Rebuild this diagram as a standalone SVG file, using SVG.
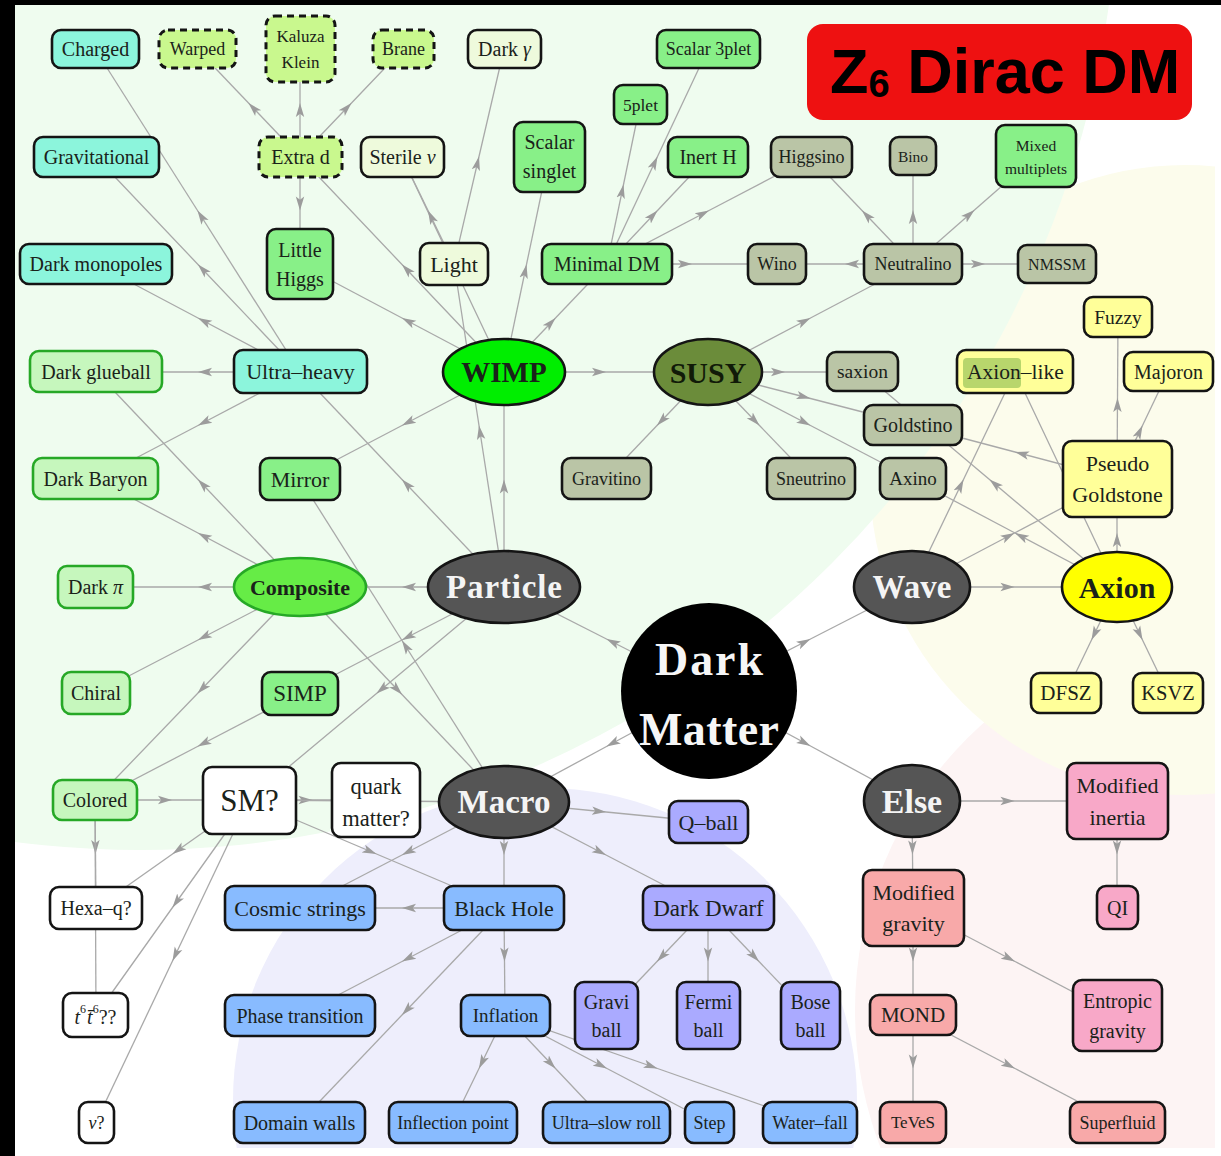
<svg xmlns="http://www.w3.org/2000/svg" width="1221" height="1156" viewBox="0 0 1221 1156">
<defs>
<clipPath id="clip"><rect x="15" y="5" width="1200" height="1143"/></clipPath>
<marker id="ah" viewBox="0 0 16 10" refX="15" refY="5" markerWidth="15" markerHeight="10" markerUnits="userSpaceOnUse" orient="auto"><path d="M0,0.5 L15,5 L0,9.5 L3.5,5 Z" fill="#9c9c9c"/></marker>
<style>
.e{fill:none;stroke:#a9a9a9;stroke-width:1.3;marker-mid:url(#ah)}
text{font-family:"Liberation Serif","Times New Roman",serif;text-anchor:middle;dominant-baseline:central}
#nodes{font-size:20px;fill:#1a221a}
.n{stroke:#141414;stroke-width:2.6}
.d{stroke-dasharray:7 5;stroke-width:3}
.cy{fill:#8cf5dc}.dl{fill:#c9f88e}.pl{fill:#eefadc}.gr{fill:#88f088}.sg{fill:#bac5a6}
.lg{fill:#c6f7bd;stroke:#26a826}.ye{fill:#ffff99}.wh{fill:#ffffff}.bl{fill:#88bbff}
.lv{fill:#aaaaff}.sa{fill:#f8a9a9}.pk{fill:#f8a8c8}
.dk{fill:#555555}
.wt{fill:#f4f4f4;font-weight:bold}
.dm{fill:#f6f6f6;font-weight:bold;font-size:46px}
.bo{font-weight:bold}
</style>
</defs>
<rect width="1221" height="1156" fill="#ffffff"/>
<g clip-path="url(#clip)">
<circle cx="1240" cy="1010" r="385" fill="#fdf4f4"/>
<circle cx="1185" cy="480" r="315" fill="#fcfcec"/>
<circle cx="545" cy="1100" r="312" fill="#eeeefc"/>
<circle cx="140" cy="-128" r="978" fill="#effcef"/>
</g>
<rect x="0" y="0" width="1221" height="5" fill="#000"/>
<rect x="0" y="0" width="15" height="1156" fill="#000"/>

<g id="edges">
<path class="e" d="M709,691 L606.5,639 L504,587"/>
<path class="e" d="M709,691 L810.5,639 L912,587"/>
<path class="e" d="M709,691 L606.5,746.5 L504,802"/>
<path class="e" d="M709,691 L810.5,746 L912,801"/>
<path class="e" d="M504,587 L504,479.5 L504,372"/>
<path class="e" d="M504,587 L479,425.5 L454,264"/>
<path class="e" d="M504,587 L402,479.5 L300,372"/>
<path class="e" d="M504,587 L402,587 L300,587"/>
<path class="e" d="M504,587 L402,640 L300,693"/>
<path class="e" d="M504,587 L376.5,693.5 L249,800"/>
<path class="e" d="M504,372 L606,372 L708,372"/>
<path class="e" d="M504,372 L402,425.5 L300,479"/>
<path class="e" d="M504,372 L402,318 L300,264"/>
<path class="e" d="M504,372 L402,264.5 L300,157"/>
<path class="e" d="M504,372 L453,264.5 L402,157"/>
<path class="e" d="M504,372 L526.5,264.5 L549,157"/>
<path class="e" d="M504,372 L555.5,318 L607,264"/>
<path class="e" d="M454,264 L428,210.5 L402,157"/>
<path class="e" d="M454,264 L479,156.5 L504,49"/>
<path class="e" d="M300,157 L248.5,103 L197,49"/>
<path class="e" d="M300,157 L300,103 L300,49"/>
<path class="e" d="M300,157 L351.5,103 L403,49"/>
<path class="e" d="M300,157 L300,210.5 L300,264"/>
<path class="e" d="M300,372 L197.5,210.5 L95,49"/>
<path class="e" d="M300,372 L198,264.5 L96,157"/>
<path class="e" d="M300,372 L198,318 L96,264"/>
<path class="e" d="M300,372 L198,372 L96,372"/>
<path class="e" d="M300,372 L198,425.5 L96,479"/>
<path class="e" d="M300,587 L198,479.5 L96,372"/>
<path class="e" d="M300,587 L198,533 L96,479"/>
<path class="e" d="M300,587 L198,587 L96,587"/>
<path class="e" d="M300,587 L198,640 L96,693"/>
<path class="e" d="M300,587 L197.5,693.5 L95,800"/>
<path class="e" d="M300,587 L402,694.5 L504,802"/>
<path class="e" d="M504,802 L402,640.5 L300,479"/>
<path class="e" d="M300,693 L197.5,746.5 L95,800"/>
<path class="e" d="M95,800 L172,800 L249,800"/>
<path class="e" d="M95,800 L95.5,854 L96,908"/>
<path class="e" d="M95,800 L95.5,907.5 L96,1015"/>
<path class="e" d="M249,800 L312.5,800 L376,800"/>
<path class="e" d="M249,800 L172.5,854 L96,908"/>
<path class="e" d="M249,800 L172.5,907.5 L96,1015"/>
<path class="e" d="M249,800 L172.5,961 L96,1122"/>
<path class="e" d="M249,800 L376.5,854 L504,908"/>
<path class="e" d="M504,802 L376.5,801 L249,800"/>
<path class="e" d="M504,802 L606,812 L708,822"/>
<path class="e" d="M504,802 L504,855 L504,908"/>
<path class="e" d="M504,802 L606,855 L708,908"/>
<path class="e" d="M504,802 L402,855 L300,908"/>
<path class="e" d="M504,908 L402,908 L300,908"/>
<path class="e" d="M504,908 L402,961.5 L300,1015"/>
<path class="e" d="M504,908 L402,1015 L300,1122"/>
<path class="e" d="M504,908 L504.5,961.5 L505,1015"/>
<path class="e" d="M505,1015 L479,1068.5 L453,1122"/>
<path class="e" d="M505,1015 L555.5,1068.5 L606,1122"/>
<path class="e" d="M505,1015 L607,1068.5 L709,1122"/>
<path class="e" d="M505,1015 L657.5,1068.5 L810,1122"/>
<path class="e" d="M708,908 L657,961.5 L606,1015"/>
<path class="e" d="M708,908 L708,961.5 L708,1015"/>
<path class="e" d="M708,908 L759,961.5 L810,1015"/>
<path class="e" d="M912,801 L1014.5,801 L1117,801"/>
<path class="e" d="M912,801 L912.5,854.5 L913,908"/>
<path class="e" d="M1117,801 L1117,854.5 L1117,908"/>
<path class="e" d="M913,908 L913,961.5 L913,1015"/>
<path class="e" d="M913,908 L1015,961.5 L1117,1015"/>
<path class="e" d="M913,1015 L913,1068.5 L913,1122"/>
<path class="e" d="M913,1015 L1015,1068.5 L1117,1122"/>
<path class="e" d="M607,264 L623.5,184.5 L640,105"/>
<path class="e" d="M607,264 L657.5,156.5 L708,49"/>
<path class="e" d="M607,264 L657.5,210.5 L708,157"/>
<path class="e" d="M607,264 L709,210.5 L811,157"/>
<path class="e" d="M607,264 L692,264 L777,264"/>
<path class="e" d="M913,264 L845,264 L777,264"/>
<path class="e" d="M913,264 L862,210.5 L811,157"/>
<path class="e" d="M913,264 L913,210 L913,156"/>
<path class="e" d="M913,264 L974.5,210 L1036,156"/>
<path class="e" d="M913,264 L985,264 L1057,264"/>
<path class="e" d="M708,372 L810.5,318 L913,264"/>
<path class="e" d="M708,372 L785,372 L862,372"/>
<path class="e" d="M708,372 L810.5,398.5 L913,425"/>
<path class="e" d="M708,372 L810.5,425.5 L913,479"/>
<path class="e" d="M708,372 L759.5,425.5 L811,479"/>
<path class="e" d="M708,372 L657,425.5 L606,479"/>
<path class="e" d="M912,587 L963.5,479.5 L1015,372"/>
<path class="e" d="M912,587 L1014.5,533 L1117,479"/>
<path class="e" d="M912,587 L1014.5,587 L1117,587"/>
<path class="e" d="M1117,587 L1066,479.5 L1015,372"/>
<path class="e" d="M1117,587 L989.5,479.5 L862,372"/>
<path class="e" d="M1117,587 L1015,533 L913,479"/>
<path class="e" d="M1117,587 L1117,533 L1117,479"/>
<path class="e" d="M1117,587 L1091.5,640 L1066,693"/>
<path class="e" d="M1117,587 L1142.5,640 L1168,693"/>
<path class="e" d="M1117,479 L1015,452 L913,425"/>
<path class="e" d="M1117,479 L1117.5,398 L1118,317"/>
<path class="e" d="M1117,479 L1142.5,425.5 L1168,372"/>
</g>

<g id="nodes">
<g id="charged"><rect class="n cy" x="52" y="30" width="87" height="38" rx="9"/><text x="95.5" y="49">Charged</text></g>
<g id="warped"><rect class="n d dl" x="159" y="30" width="77" height="38" rx="9"/><text x="197.5" y="49" font-size="18">Warped</text></g>
<g id="kaluza-klein"><rect class="n d dl" x="266" y="16" width="69" height="66" rx="9"/><text x="300.5" y="36" font-size="17">Kaluza</text><text x="300.5" y="62" font-size="17">Klein</text></g>
<g id="brane"><rect class="n d dl" x="373" y="30" width="61" height="38" rx="9"/><text x="403.5" y="49" font-size="18">Brane</text></g>
<g id="dark-gamma"><rect class="n pl" x="468" y="30" width="73" height="38" rx="9"/><text x="504.5" y="49">Dark <tspan font-style="italic">γ</tspan></text></g>
<g id="scalar-3plet"><rect class="n gr" x="657" y="30" width="103" height="38" rx="9"/><text x="708.5" y="49" font-size="18">Scalar 3plet</text></g>
<g id="five-plet"><rect class="n gr" x="614" y="85" width="53" height="39" rx="9"/><text x="640.5" y="104.5" font-size="17.5">5plet</text></g>
<g id="title"><rect x="807" y="24" width="385" height="96" rx="16" fill="#ee1111"/><text x="830" y="93" style="font-family:'Liberation Sans',Arial,sans-serif;font-weight:bold;font-size:63px;text-anchor:start;dominant-baseline:alphabetic;fill:#000">Z<tspan font-size="38" dy="4">6</tspan><tspan dy="-4"> Dirac DM</tspan></text></g>

<g id="gravitational"><rect class="n cy" x="34" y="137" width="125" height="40" rx="9"/><text x="96.5" y="157">Gravitational</text></g>
<g id="extra-d"><rect class="n d dl" x="259" y="137" width="83" height="40" rx="9"/><text x="300.5" y="157">Extra d</text></g>
<g id="sterile-nu"><rect class="n pl" x="361" y="137" width="83" height="40" rx="9"/><text x="402.5" y="157">Sterile <tspan font-style="italic">ν</tspan></text></g>
<g id="scalar-singlet"><rect class="n gr" x="514" y="122" width="71" height="70" rx="9"/><text x="549.5" y="142">Scalar</text><text x="549.5" y="171">singlet</text></g>
<g id="inert-h"><rect class="n gr" x="668" y="137" width="80" height="40" rx="9"/><text x="708" y="157">Inert H</text></g>
<g id="higgsino"><rect class="n sg" x="771" y="137" width="81" height="40" rx="9"/><text x="811.5" y="157" font-size="18">Higgsino</text></g>
<g id="bino"><rect class="n sg" x="890" y="137" width="46" height="38" rx="9"/><text x="913" y="156" font-size="15.5">Bino</text></g>
<g id="mixed-multiplets"><rect class="n gr" x="996" y="125" width="80" height="62" rx="9"/><text x="1036" y="145" font-size="15.5">Mixed</text><text x="1036" y="168" font-size="15.5">multiplets</text></g>

<g id="dark-monopoles"><rect class="n cy" x="20" y="244" width="152" height="40" rx="9"/><text x="96" y="264">Dark monopoles</text></g>
<g id="little-higgs"><rect class="n gr" x="267" y="229" width="66" height="70" rx="9"/><text x="300" y="249.5">Little</text><text x="300" y="278.5">Higgs</text></g>
<g id="light"><rect class="n pl" x="420" y="243" width="68" height="42" rx="9"/><text x="454" y="264" font-size="22">Light</text></g>
<g id="minimal-dm"><rect class="n gr" x="542" y="244" width="130" height="40" rx="9"/><text x="607" y="264">Minimal DM</text></g>
<g id="wino"><rect class="n sg" x="748" y="244" width="58" height="40" rx="9"/><text x="777" y="264" font-size="18">Wino</text></g>
<g id="neutralino"><rect class="n sg" x="864" y="244" width="98" height="40" rx="9"/><text x="913" y="264" font-size="18">Neutralino</text></g>
<g id="nmssm"><rect class="n sg" x="1018" y="245" width="78" height="38" rx="9"/><text x="1057" y="264" font-size="16">NMSSM</text></g>
<g id="fuzzy"><rect class="n ye" x="1084" y="297" width="68" height="40" rx="9"/><text x="1118" y="317" font-size="19.5">Fuzzy</text></g>

<g id="dark-glueball"><rect class="n lg" x="30" y="351" width="132" height="41" rx="9"/><text x="96" y="371.5">Dark glueball</text></g>
<g id="ultra-heavy"><rect class="n cy" x="234" y="350" width="133" height="43" rx="9"/><text x="300.5" y="371.5" font-size="22">Ultra–heavy</text></g>
<g id="wimp"><ellipse class="n" cx="504" cy="372" rx="61" ry="33" fill="#00ee00"/><text class="bo" x="504" y="372" font-size="29">WIMP</text></g>
<g id="susy"><ellipse class="n" cx="708" cy="372" rx="54" ry="33" fill="#6b8c3a"/><text class="bo" x="708" y="372" font-size="30" fill="#111a08">SUSY</text></g>
<g id="saxion"><rect class="n sg" x="827" y="352" width="71" height="39" rx="9"/><text x="862.5" y="371.5" font-size="19.5">saxion</text></g>
<g id="axion-like"><rect class="n ye" x="957" y="350" width="116" height="43" rx="9"/><rect x="963" y="358" width="58" height="30" rx="4" fill="#b8d66c"/><text x="967" y="372" font-size="21.5" style="text-anchor:start">Axion–like</text></g>
<g id="majoron"><rect class="n ye" x="1124" y="352" width="89" height="39" rx="9"/><text x="1168.5" y="371.5">Majoron</text></g>

<g id="goldstino"><rect class="n sg" x="864" y="405" width="98" height="40" rx="9"/><text x="913" y="425">Goldstino</text></g>

<g id="dark-baryon"><rect class="n lg" x="33" y="458" width="125" height="41" rx="9"/><text x="95.5" y="478.5">Dark Baryon</text></g>
<g id="mirror"><rect class="n gr" x="260" y="458" width="80" height="42" rx="9"/><text x="300" y="479" font-size="22">Mirror</text></g>
<g id="gravitino"><rect class="n sg" x="562" y="458" width="89" height="41" rx="9"/><text x="606.5" y="478.5" font-size="18">Gravitino</text></g>
<g id="sneutrino"><rect class="n sg" x="767" y="458" width="88" height="41" rx="9"/><text x="811" y="478.5" font-size="18">Sneutrino</text></g>
<g id="axino"><rect class="n sg" x="880" y="458" width="66" height="41" rx="9"/><text x="913" y="478.5" font-size="19">Axino</text></g>
<g id="pseudo-goldstone"><rect class="n ye" x="1063" y="441" width="109" height="76" rx="9"/><text x="1117.5" y="463.5" font-size="22">Pseudo</text><text x="1117.5" y="494" font-size="22">Goldstone</text></g>

<g id="dark-pi"><rect class="n lg" x="58" y="566" width="75" height="42" rx="9"/><text x="95.5" y="587">Dark <tspan font-style="italic">π</tspan></text></g>
<g id="composite"><ellipse cx="300" cy="587" rx="66" ry="29" fill="#66ec46" stroke="#26a826" stroke-width="2.6"/><text class="bo" x="300" y="587" font-size="22">Composite</text></g>
<g id="particle"><ellipse class="n dk" cx="504" cy="587" rx="76" ry="36"/><text class="wt" x="504" y="587" font-size="33" textLength="116" lengthAdjust="spacing">Particle</text></g>
<g id="wave"><ellipse class="n dk" cx="912" cy="587" rx="58" ry="36"/><text class="wt" x="912" y="587" font-size="33">Wave</text></g>
<g id="axion"><ellipse class="n" cx="1117" cy="587" rx="55" ry="35" fill="#ffff00"/><text class="bo" x="1117" y="587" font-size="30">Axion</text></g>

<g id="dark-matter"><circle cx="709" cy="691" r="88" fill="#000"/><text class="dm" x="709" y="659" textLength="108" lengthAdjust="spacing">Dark</text><text class="dm" x="709" y="729" textLength="140" lengthAdjust="spacing">Matter</text></g>

<g id="chiral"><rect class="n lg" x="62" y="672" width="68" height="42" rx="9"/><text x="96" y="693">Chiral</text></g>
<g id="simp"><rect class="n gr" x="262" y="672" width="76" height="43" rx="9"/><text x="300" y="693.5" font-size="23">SIMP</text></g>
<g id="dfsz"><rect class="n ye" x="1031" y="673" width="70" height="40" rx="9"/><text x="1066" y="693" font-size="21">DFSZ</text></g>
<g id="ksvz"><rect class="n ye" x="1133" y="673" width="70" height="40" rx="9"/><text x="1168" y="693" font-size="20.5">KSVZ</text></g>

<g id="colored"><rect class="n lg" x="53" y="780" width="84" height="40" rx="9"/><text x="95" y="800">Colored</text></g>
<g id="sm"><rect class="n wh" x="203" y="767" width="93" height="67" rx="9"/><text x="249.5" y="800.5" font-size="31">SM?</text></g>
<g id="quark-matter"><rect class="n wh" x="332" y="763" width="88" height="74" rx="9"/><text x="376" y="786" font-size="22.5">quark</text><text x="376" y="818" font-size="22.5">matter?</text></g>
<g id="macro"><ellipse class="n dk" cx="504" cy="802" rx="65" ry="36"/><text class="wt" x="504" y="802" font-size="33">Macro</text></g>
<g id="q-ball"><rect class="n lv" x="669" y="801" width="79" height="42" rx="9"/><text x="708.5" y="822" font-size="22">Q–ball</text></g>
<g id="else"><ellipse class="n dk" cx="912" cy="801" rx="48" ry="36"/><text class="wt" x="912" y="801" font-size="34">Else</text></g>
<g id="modified-inertia"><rect class="n pk" x="1067" y="763" width="101" height="76" rx="9"/><text x="1117.5" y="785.5" font-size="22">Modified</text><text x="1117.5" y="817" font-size="22">inertia</text></g>

<g id="hexa-q"><rect class="n wh" x="50" y="887" width="92" height="42" rx="9"/><text x="96" y="908">Hexa–q?</text></g>
<g id="cosmic-strings"><rect class="n bl" x="225" y="886" width="150" height="44" rx="9"/><text x="300" y="908" font-size="22">Cosmic strings</text></g>
<g id="black-hole"><rect class="n bl" x="444" y="886" width="120" height="44" rx="9"/><text x="504" y="908" font-size="22">Black Hole</text></g>
<g id="dark-dwarf"><rect class="n lv" x="643" y="886" width="131" height="44" rx="9"/><text x="708.5" y="908" font-size="23">Dark Dwarf</text></g>
<g id="modified-gravity"><rect class="n sa" x="863" y="870" width="101" height="76" rx="9"/><text x="913.5" y="892" font-size="22">Modified</text><text x="913.5" y="923.5" font-size="22">gravity</text></g>
<g id="qi"><rect class="n pk" x="1097" y="886" width="41" height="43" rx="9"/><text x="1117.5" y="907.5">QI</text></g>

<g id="t6t6"><rect class="n wh" x="63" y="993" width="65" height="44" rx="9"/><text x="95.5" y="1017" font-size="20"><tspan font-style="italic">t</tspan><tspan font-size="12" dy="-8">6</tspan><tspan font-style="italic" dy="8" dx="1">t̄</tspan><tspan font-size="12" dy="-8">6</tspan><tspan dy="8">??</tspan></text></g>
<g id="phase-transition"><rect class="n bl" x="225" y="995" width="150" height="41" rx="9"/><text x="300" y="1015.5">Phase transition</text></g>
<g id="inflation"><rect class="n bl" x="461" y="995" width="89" height="41" rx="9"/><text x="505.5" y="1015.5" font-size="19">Inflation</text></g>
<g id="gravi-ball"><rect class="n lv" x="575" y="982" width="63" height="67" rx="9"/><text x="606.5" y="1002">Gravi</text><text x="606.5" y="1030">ball</text></g>
<g id="fermi-ball"><rect class="n lv" x="677" y="982" width="63" height="67" rx="9"/><text x="708.5" y="1002">Fermi</text><text x="708.5" y="1030">ball</text></g>
<g id="bose-ball"><rect class="n lv" x="781" y="982" width="59" height="67" rx="9"/><text x="810.5" y="1002">Bose</text><text x="810.5" y="1030">ball</text></g>
<g id="mond"><rect class="n sa" x="870" y="995" width="86" height="40" rx="9"/><text x="913" y="1015" font-size="21">MOND</text></g>
<g id="entropic-gravity"><rect class="n pk" x="1073" y="980" width="89" height="71" rx="9"/><text x="1117.5" y="1001">Entropic</text><text x="1117.5" y="1031">gravity</text></g>

<g id="nu"><rect class="n wh" x="79" y="1102" width="35" height="41" rx="9"/><text x="96.5" y="1122.5" font-size="18"><tspan font-style="italic">ν</tspan>?</text></g>
<g id="domain-walls"><rect class="n bl" x="234" y="1102" width="131" height="41" rx="9"/><text x="299.5" y="1122.5">Domain walls</text></g>
<g id="inflection-point"><rect class="n bl" x="389" y="1102" width="128" height="41" rx="9"/><text x="453" y="1122.5" font-size="18">Inflection point</text></g>
<g id="ultra-slow-roll"><rect class="n bl" x="543" y="1102" width="127" height="41" rx="9"/><text x="606.5" y="1122.5" font-size="18">Ultra–slow roll</text></g>
<g id="step"><rect class="n bl" x="685" y="1102" width="49" height="41" rx="9"/><text x="709.5" y="1122.5" font-size="18">Step</text></g>
<g id="water-fall"><rect class="n bl" x="763" y="1102" width="94" height="41" rx="9"/><text x="810" y="1122.5" font-size="18">Water–fall</text></g>
<g id="teves"><rect class="n sa" x="880" y="1102" width="66" height="41" rx="9"/><text x="913" y="1122.5" font-size="17">TeVeS</text></g>
<g id="superfluid"><rect class="n sa" x="1070" y="1102" width="95" height="41" rx="9"/><text x="1117.5" y="1122.5" font-size="18">Superfluid</text></g>
</g>
</svg>
